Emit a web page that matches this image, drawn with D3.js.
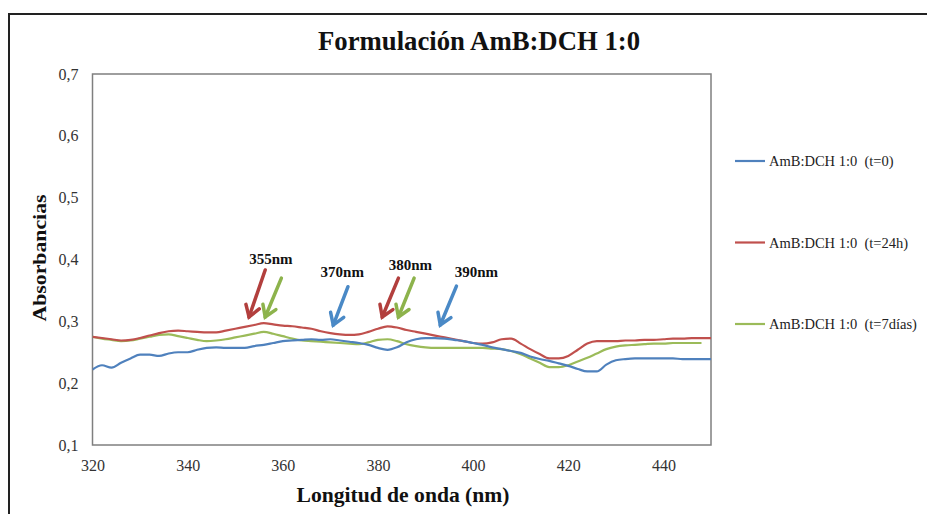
<!DOCTYPE html>
<html>
<head>
<meta charset="utf-8">
<script src="https://cdn.jsdelivr.net/npm/d3@7"></script>
<style>
  html, body { margin: 0; padding: 0; background: #fff; }
  svg { display: block; }
</style>
</head>
<body>
<svg id="chart" width="927" height="514"></svg>
<script>
// Wavelength grid (nm) shared by the three spectra
const wavelengths = d3.range(320, 451, 2);

// Absorbance, t = 0
const absT0 = [
  0.222, 0.229, 0.225, 0.233, 0.240, 0.246, 0.246, 0.244, 0.248, 0.250,
  0.250, 0.254, 0.257, 0.258, 0.257, 0.257, 0.257, 0.260, 0.262, 0.265,
  0.268, 0.269, 0.270, 0.271, 0.270, 0.271, 0.269, 0.267, 0.265, 0.262,
  0.257, 0.254, 0.258, 0.266, 0.271, 0.273, 0.273, 0.272, 0.270, 0.268,
  0.265, 0.262, 0.258, 0.255, 0.252, 0.249, 0.243, 0.239, 0.236, 0.232,
  0.228, 0.223, 0.219, 0.219, 0.230, 0.237, 0.239, 0.240, 0.240, 0.240,
  0.240, 0.240, 0.239, 0.239, 0.239, 0.239
];

// Absorbance, t = 24 h
const absT24h = [
  0.275, 0.273, 0.271, 0.269, 0.270, 0.273, 0.277, 0.281, 0.284, 0.285,
  0.284, 0.283, 0.282, 0.282, 0.285, 0.288, 0.291, 0.294, 0.297, 0.295,
  0.293, 0.292, 0.290, 0.288, 0.284, 0.281, 0.279, 0.278, 0.279, 0.283,
  0.288, 0.292, 0.290, 0.286, 0.283, 0.280, 0.277, 0.274, 0.271, 0.268,
  0.265, 0.264, 0.266, 0.271, 0.272, 0.264, 0.255, 0.247, 0.240, 0.240,
  0.244, 0.254, 0.264, 0.268, 0.268, 0.268, 0.269, 0.269, 0.270, 0.270,
  0.271, 0.272, 0.272, 0.273, 0.273, 0.273
];

// Absorbance, t = 7 días (no reading at 450 nm)
const absT7d = [
  0.275, 0.272, 0.270, 0.268, 0.269, 0.272, 0.275, 0.278, 0.279, 0.276,
  0.273, 0.270, 0.268, 0.269, 0.271, 0.274, 0.277, 0.280, 0.283, 0.280,
  0.276, 0.272, 0.269, 0.268, 0.267, 0.266, 0.265, 0.264, 0.263, 0.266,
  0.270, 0.271, 0.268, 0.263, 0.260, 0.258, 0.257, 0.257, 0.257, 0.257,
  0.257, 0.257, 0.256, 0.255, 0.252, 0.247, 0.240, 0.233, 0.226, 0.226,
  0.229, 0.235, 0.241, 0.248, 0.255, 0.259, 0.261, 0.262, 0.263, 0.264,
  0.264, 0.265, 0.265, 0.265, 0.265, null
];

const seriesNames = ["AmB:DCH 1:0  (t=0)", "AmB:DCH 1:0  (t=24h)", "AmB:DCH 1:0  (t=7días)"];
const seriesColors = ["#4f81bd", "#c0504d", "#9bbb59"];

const xTicks = [320, 340, 360, 380, 400, 420, 440];
const yTicks = [0.1, 0.2, 0.3, 0.4, 0.5, 0.6, 0.7];

// Peak markers: label position and arrows (tail -> tip) in data units
const peakLabels = [
  { text: "355nm", wl: 357.5, a: 0.402 },
  { text: "370nm", wl: 372.5, a: 0.380 },
  { text: "380nm", wl: 386.8, a: 0.391 },
  { text: "390nm", wl: 400.7, a: 0.380 }
];
const peakArrows = [
  { color: "#b23f3d", wl0: 356.3, a0: 0.383, wl1: 352.9, a1: 0.307 },
  { color: "#8db34c", wl0: 359.7, a0: 0.370, wl1: 356.3, a1: 0.307 },
  { color: "#4a89c6", wl0: 373.7, a0: 0.356, wl1: 370.6, a1: 0.294 },
  { color: "#b23f3d", wl0: 384.3, a0: 0.370, wl1: 380.9, a1: 0.307 },
  { color: "#8db34c", wl0: 387.6, a0: 0.370, wl1: 384.3, a1: 0.307 },
  { color: "#4a89c6", wl0: 396.5, a0: 0.357, wl1: 393.1, a1: 0.294 }
];

const svg = d3.select("#chart");
const serif = "'Liberation Serif', 'Times New Roman', serif";

// Outer frame
svg.append("rect")
  .attr("x", 9).attr("y", 14).attr("width", 940).attr("height", 520)
  .attr("fill", "#fff").attr("stroke", "#222").attr("stroke-width", 2);

const plot = { left: 92.5, right: 711, top: 74, bottom: 445 };

const x = d3.scaleLinear().domain([320, 450]).range([plot.left, plot.right]);
const y = d3.scaleLinear().domain([0.1, 0.7]).range([plot.bottom, plot.top]);

// Title
svg.append("text")
  .attr("x", 479).attr("y", 50)
  .attr("text-anchor", "middle")
  .attr("font-family", serif).attr("font-weight", "bold").attr("font-size", 27)
  .attr("textLength", 322).attr("lengthAdjust", "spacingAndGlyphs")
  .attr("fill", "#111")
  .text("Formulación AmB:DCH 1:0");

// Axes (labels only, no tick marks)
const xAxis = d3.axisBottom(x).tickValues(xTicks).tickSize(0).tickPadding(0)
  .tickFormat(d3.format("d"));
const gx = svg.append("g").attr("transform", `translate(0,${plot.bottom + 12})`).call(xAxis);
gx.select(".domain").remove();
gx.selectAll("text")
  .attr("font-family", serif).attr("font-size", 16).attr("fill", "#333")
  .attr("dy", "0.9em");

const fmtComma = d => d3.format(".1f")(d).replace(".", ",");
const yAxis = d3.axisLeft(y).tickValues(yTicks).tickSize(0).tickPadding(0).tickFormat(fmtComma);
const gy = svg.append("g").attr("transform", `translate(${plot.left - 14},0)`).call(yAxis);
gy.select(".domain").remove();
gy.selectAll("text")
  .attr("font-family", serif).attr("font-size", 16).attr("fill", "#333");

// Plot area border
svg.append("rect")
  .attr("x", plot.left).attr("y", plot.top)
  .attr("width", plot.right - plot.left).attr("height", plot.bottom - plot.top)
  .attr("fill", "none").attr("stroke", "#7f7f7f").attr("stroke-width", 1.5);

// Axis titles
svg.append("text")
  .attr("x", 403).attr("y", 502)
  .attr("text-anchor", "middle")
  .attr("font-family", serif).attr("font-weight", "bold").attr("font-size", 20)
  .attr("textLength", 213).attr("lengthAdjust", "spacingAndGlyphs")
  .attr("fill", "#111")
  .text("Longitud de onda (nm)");

svg.append("text")
  .attr("transform", "translate(46,258) rotate(-90)")
  .attr("text-anchor", "middle")
  .attr("font-family", serif).attr("font-weight", "bold").attr("font-size", 19)
  .attr("textLength", 127).attr("lengthAdjust", "spacingAndGlyphs")
  .attr("fill", "#111")
  .text("Absorbancias");

// Spectra
const seriesValues = [absT0, absT24h, absT7d];
const line = d3.line()
  .defined(d => d[1] != null)
  .x(d => x(d[0]))
  .y(d => y(d[1]))
  .curve(d3.curveMonotoneX);

svg.append("clipPath").attr("id", "plotClip")
  .append("rect")
  .attr("x", plot.left).attr("y", plot.top)
  .attr("width", plot.right - plot.left).attr("height", plot.bottom - plot.top);

const gLines = svg.append("g").attr("clip-path", "url(#plotClip)");
// draw t=7días first, then t=24h, then t=0 so the first series sits on top
[2, 1, 0].forEach(i => {
  gLines.append("path")
    .datum(wavelengths.map((w, j) => [w, seriesValues[i][j]]))
    .attr("fill", "none")
    .attr("stroke", seriesColors[i])
    .attr("stroke-width", 2.2)
    .attr("stroke-linejoin", "round")
    .attr("d", line);
});

// Peak arrows
const gArrows = svg.append("g");
peakArrows.forEach(a => {
  const x0 = x(a.wl0), y0 = y(a.a0), x1 = x(a.wl1), y1 = y(a.a1);
  const ang = Math.atan2(y1 - y0, x1 - x0);
  const len = 13, spread = Math.PI / 5.5;
  const bx1 = x1 - len * Math.cos(ang - spread), by1 = y1 - len * Math.sin(ang - spread);
  const bx2 = x1 - len * Math.cos(ang + spread), by2 = y1 - len * Math.sin(ang + spread);
  gArrows.append("line")
    .attr("x1", x0).attr("y1", y0).attr("x2", x1).attr("y2", y1)
    .attr("stroke", a.color).attr("stroke-width", 3.5).attr("stroke-linecap", "round");
  gArrows.append("path")
    .attr("d", `M${bx1},${by1}L${x1},${y1}L${bx2},${by2}`)
    .attr("fill", "none").attr("stroke", a.color)
    .attr("stroke-width", 3.5).attr("stroke-linecap", "round").attr("stroke-linejoin", "miter");
});

// Peak labels
svg.append("g").selectAll("text")
  .data(peakLabels)
  .join("text")
  .attr("x", d => x(d.wl)).attr("y", d => y(d.a))
  .attr("dy", "0.35em")
  .attr("text-anchor", "middle")
  .attr("font-family", serif).attr("font-weight", "bold").attr("font-size", 15)
  .attr("fill", "#111")
  .text(d => d.text);

// Legend
const legend = svg.append("g").selectAll("g")
  .data(seriesNames)
  .join("g")
  .attr("transform", (d, i) => `translate(735,${161 + i * 81.5})`);
legend.append("line")
  .attr("x1", 0).attr("x2", 30).attr("y1", 0).attr("y2", 0)
  .attr("stroke", (d, i) => seriesColors[i]).attr("stroke-width", 2.2);
legend.append("text")
  .attr("x", 34).attr("y", 0).attr("dy", "0.35em")
  .attr("font-family", serif).attr("font-size", 14.5).attr("fill", "#222")
  .style("white-space", "pre")
  .text(d => d);
</script>
</body>
</html>
